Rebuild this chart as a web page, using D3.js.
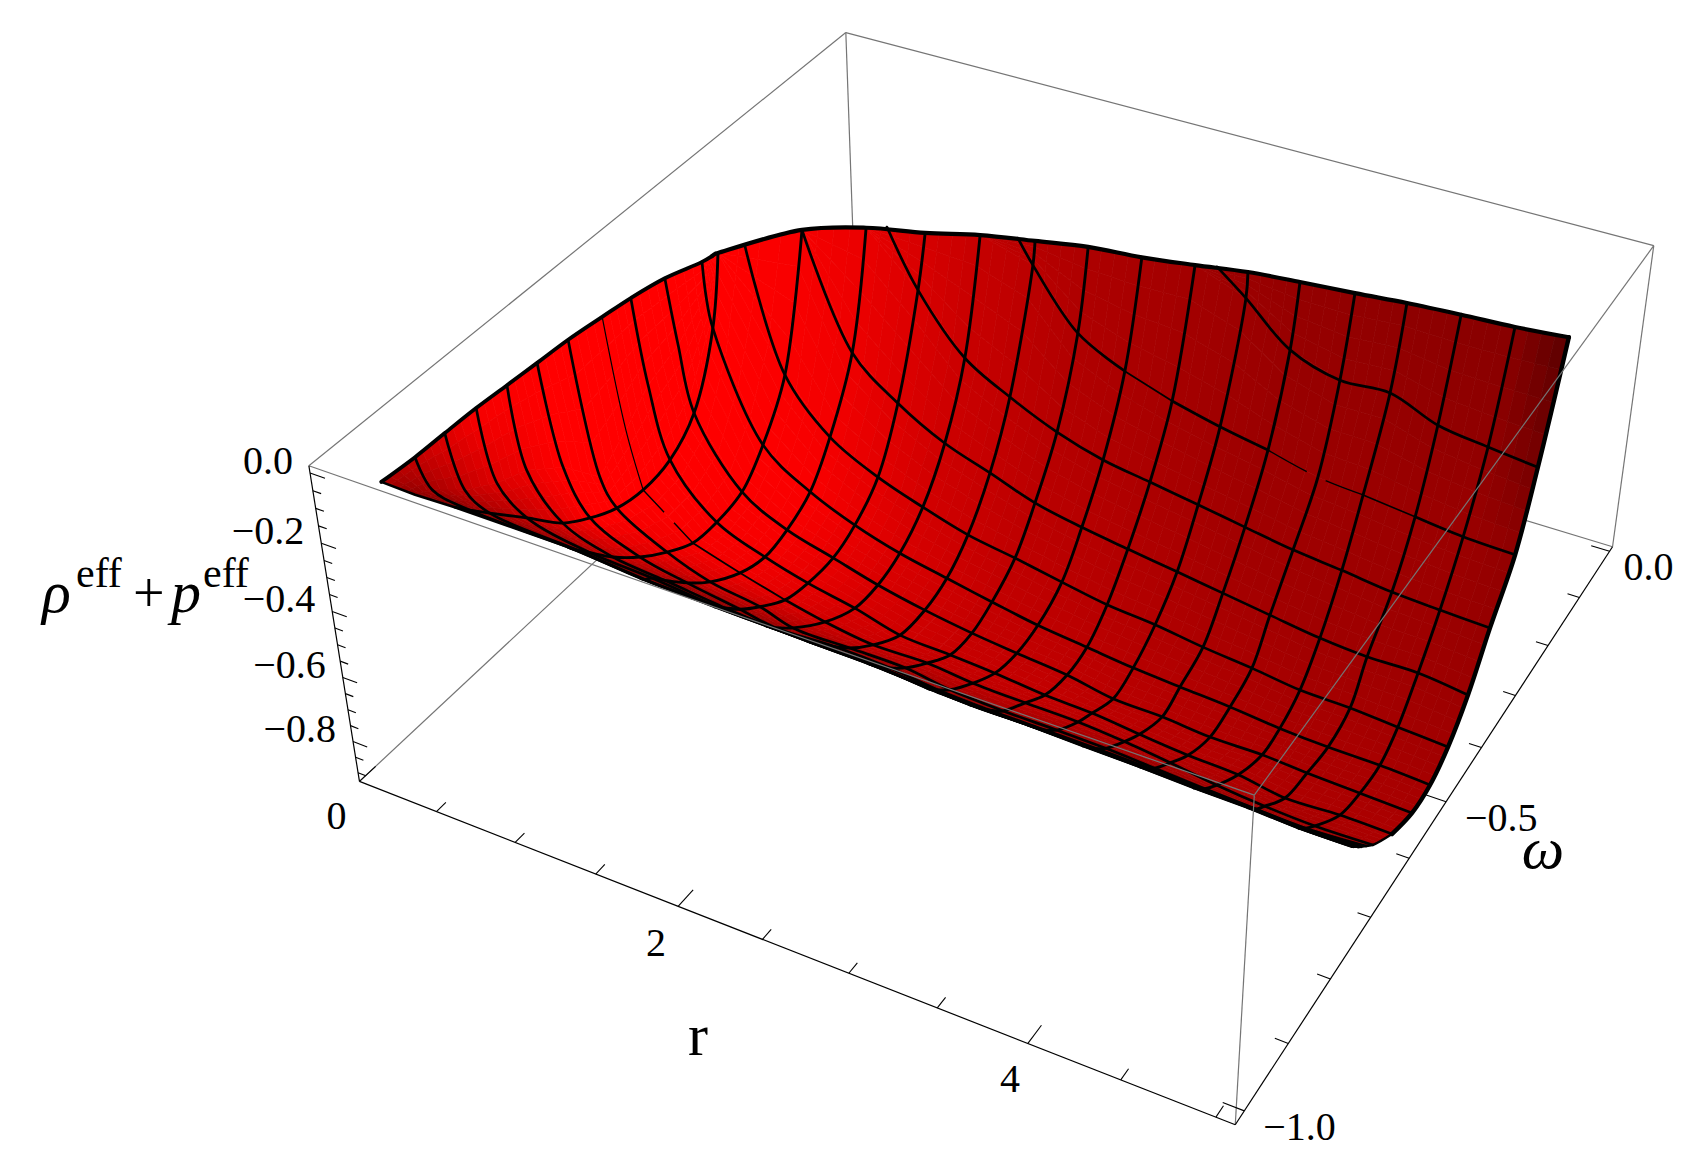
<!DOCTYPE html>
<html><head><meta charset="utf-8"><script src="https://cdn.jsdelivr.net/npm/d3@7"></script>
<style>html,body{margin:0;background:#fff}svg{display:block}text{font-family:"Liberation Serif",serif;fill:#000}</style></head><body>
<svg id="c" width="1706" height="1161"></svg>
<script>
const n=null;
// r value of each grid column
const rColumns=[0,0.15,0.297,0.594,0.891,1.188,1.484,1.781,2.078,2.375,2.672,2.969,3.266,3.563,3.859,4.156,4.453,4.75];
// omega of each grid node (rows run from the front rim to the back edge)
const omegaGrid=[
[-.920,-.906,-.882,-.779,-.737,-.687,-.677,-.694,-.666,-.663,-.660,-.636,-.621,-.603,-.593,-.584,-.585,-.581],
[-.864,-.879,-.859,-.771,-.734,-.685,-.675,-.689,-.662,-.659,-.656,-.634,-.618,-.601,-.590,-.581,-.582,-.578],
[-.813,-.828,-.828,-.763,-.729,-.681,-.673,-.685,-.658,-.654,-.652,-.629,-.616,-.598,-.588,-.579,-.582,-.575],
[-.758,-.775,-.768,-.742,-.716,-.678,-.671,-.675,-.650,-.646,-.643,-.622,-.611,-.596,-.585,-.576,-.579,-.569],
[-.703,-.723,-.708,-.703,-.693,-.668,-.667,-.665,-.640,-.636,-.632,-.613,-.602,-.591,-.583,-.573,-.576,-.563],
[-.648,-.660,-.659,-.654,-.652,-.640,-.661,-.635,-.619,-.618,-.610,-.595,-.587,-.583,-.577,-.570,-.573,-.554],
[-.590,-.596,-.609,-.603,-.608,-.600,-.626,-.605,-.587,-.592,-.580,-.567,-.566,-.566,-.564,-.562,-.565,-.539],
[-.525,-.540,-.557,-.552,-.548,-.549,-.560,-.556,-.539,-.541,-.529,-.516,-.520,-.527,-.533,-.538,-.539,-.518],
[-.469,-.491,-.501,-.502,-.496,-.500,-.496,-.497,-.487,-.490,-.482,-.482,-.482,-.481,-.476,-.482,-.467,-.461],
[-.401,-.427,-.447,-.447,-.447,-.444,-.444,-.440,-.436,-.438,-.428,-.429,-.424,-.423,-.411,-.422,-.410,-.402],
[-.325,-.365,-.398,-.398,-.394,-.394,-.393,-.388,-.388,-.387,-.379,-.379,-.379,-.371,-.364,-.364,-.354,-.350],
[n,n,n,-.344,-.346,-.339,-.338,-.337,-.332,-.328,-.329,-.324,-.320,-.314,-.311,-.304,-.306,-.301],
[n,n,n,n,-.290,-.289,-.284,-.283,-.283,-.279,-.278,-.269,-.271,-.270,-.261,-.263,-.255,-.250],
[n,n,n,n,n,-.237,-.234,-.234,-.229,-.227,-.224,-.218,-.217,-.213,-.208,-.200,-.201,-.197],
[n,n,n,n,n,n,n,-.178,-.179,-.175,-.171,-.166,-.162,-.152,-.159,-.145,-.146,-.135],
[n,n,n,n,n,n,n,n,n,n,n,-.110,-.114,-.105,-.099,-.097,-.091,-.088],
[-.304,-.341,-.378,-.293,-.250,-.218,-.195,-.173,-.156,-.138,-.122,-.108,-.097,-.078,-.069,-.054,-.041,-.030]];
// rho_eff + p_eff of each grid node
const zGrid=[
[-.171,-.205,-.253,-.479,-.589,-.708,-.734,-.697,-.763,-.779,-.793,-.849,-.887,-.930,-.959,-.982,-.988,-.996],
[-.180,-.230,-.296,-.497,-.597,-.711,-.737,-.710,-.773,-.789,-.804,-.853,-.892,-.934,-.964,-.987,-.993,-1.002],
[-.182,-.306,-.351,-.513,-.606,-.717,-.740,-.719,-.782,-.799,-.814,-.864,-.896,-.938,-.968,-.992,-.993,-1.007],
[-.185,-.362,-.455,-.553,-.622,-.726,-.746,-.741,-.799,-.820,-.832,-.879,-.907,-.943,-.973,-.997,-.998,-1.018],
[-.193,-.399,-.561,-.626,-.665,-.741,-.755,-.760,-.819,-.844,-.857,-.898,-.927,-.955,-.977,-1.002,-1.003,-1.030],
[-.201,-.480,-.618,-.701,-.737,-.790,-.764,-.815,-.857,-.876,-.901,-.936,-.955,-.968,-.990,-1.010,-1.009,-1.046],
[-.209,-.604,-.661,-.763,-.802,-.845,-.821,-.868,-.909,-.919,-.954,-.984,-.990,-.999,-1.013,-1.025,-1.024,-1.071],
[-.225,-.535,-.679,-.811,-.866,-.903,-.907,-.937,-.972,-.982,-1.013,-1.044,-1.047,-1.049,-1.056,-1.059,-1.064,-1.106],
[-.240,-.460,-.663,-.818,-.893,-.924,-.963,-1.000,-1.030,-1.033,-1.066,-1.072,-1.088,-1.104,-1.122,-1.132,-1.158,-1.174],
[-.266,-.420,-.588,-.799,-.877,-.926,-.967,-1.007,-1.039,-1.051,-1.088,-1.113,-1.128,-1.143,-1.168,-1.154,-1.186,-1.210],
[-.311,-.344,-.384,-.715,-.829,-.892,-.939,-.981,-1.010,-1.039,-1.074,-1.091,-1.102,-1.129,-1.159,-1.167,-1.190,-1.207],
[n,n,n,-.562,-.717,-.813,-.867,-.913,-.949,-.986,-1.010,-1.034,-1.064,-1.092,-1.118,-1.136,-1.143,-1.163],
[n,n,n,n,-.519,-.640,-.733,-.786,-.838,-.877,-.902,-.942,-.960,-.984,-1.024,-1.031,-1.045,-1.074],
[n,n,n,n,n,-.346,-.524,-.606,-.682,-.730,-.760,-.796,-.823,-.855,-.881,-.915,-.922,-.936],
[n,n,n,n,n,n,n,-.260,-.431,-.514,-.571,-.616,-.651,-.707,-.707,-.751,-.766,-.792],
[n,n,n,n,n,n,n,n,n,n,n,-.283,-.397,-.461,-.465,-.525,-.557,-.579],
[-.319,-.245,-.176,-.170,-.176,-.191,-.186,-.191,-.190,-.204,-.207,-.205,-.208,-.225,-.225,-.238,-.250,-.253]];
// where the upper mesh lines leave the back edge: r, omega, z
const omegaStart={11:[.392,-.351,-.175],12:[.594,-.293,-.170],13:[.997,-.239,-.173],14:[1.689,-.180,-.186],15:[2.795,-.116,-.203]};
// red channel
const shadeCols=[0,2,4,6,8,10,12,14,16,17];
const shadeRows=[0,3,5,6,7,8,10,12,14,16];
const shadeRed=[
[170,110,90,90,85,85,85,85,85,100],
[250,190,125,110,105,105,100,100,100,110],
[255,255,175,140,140,135,130,125,125,130],
[255,255,215,175,170,165,155,150,150,150],
[255,255,240,208,195,190,180,170,168,168],
[255,255,245,215,200,195,185,178,172,172],
[255,255,250,218,195,187,178,170,168,165],
[255,255,238,205,187,177,166,160,158,155],
[255,255,230,197,175,165,155,155,155,145],
[255,245,215,180,170,158,148,142,135,90]];
const zTicks=d3.range(0,19).map(i=>-i*0.05), zLabels=[0,-0.2,-0.4,-0.6,-0.8];
const rTicks=d3.range(0,11).map(i=>i*0.5), rLabels=[0,2,4];
const wTicks=d3.range(0,11).map(i=>-i*0.1), wLabels=[0,-0.5,-1];

const sr=d3.scaleLinear([0,5.1],[0,1]), sw=d3.scaleLinear([-1.02,0.01],[0,1]), sz=d3.scaleLinear([-0.928,0.02],[0,1]);
const corners=[[0,0,1,309,467],[0,1,1,845,33],[1,1,1,1654,245],[1,0,1,1255,794],[0,0,0,359,781],[1,0,0,1235,1125],[1,1,0,1612,548],[0,1,0,857,317]];
function fit(){const A=[],b=[];for(const [u,v,w,x,y] of corners){A.push([u,v,w,1,0,0,0,0,-x*u,-x*v,-x*w]);b.push(x);A.push([0,0,0,0,u,v,w,1,-y*u,-y*v,-y*w]);b.push(y);}
 const m=11,N=d3.range(m).map(i=>d3.range(m+1).map(j=>{let s=0;for(let k=0;k<A.length;k++)s+=A[k][i]*(j<m?A[k][j]:b[k]);return s;}));
 for(let i=0;i<m;i++){let p=i;for(let k=i;k<m;k++)if(Math.abs(N[k][i])>Math.abs(N[p][i]))p=k;[N[i],N[p]]=[N[p],N[i]];for(let k=0;k<m;k++)if(k!==i){const f=N[k][i]/N[i][i];for(let j=i;j<=m;j++)N[k][j]-=f*N[i][j];}}
 return d3.range(m).map(i=>N[i][m]/N[i][i]);}
const P=fit();
const cube=(u,v,w)=>{const d=P[8]*u+P[9]*v+P[10]*w+1;return [(P[0]*u+P[1]*v+P[2]*w+P[3])/d,(P[4]*u+P[5]*v+P[6]*w+P[7])/d];};
const project=(r,o,z)=>cube(sr(r),sw(o),sz(z));

const svg=d3.select('#c');
const gray='#757575';
const seg=(g,a,b,col,wd)=>{const p=cube(...a),q=cube(...b);g.append('line').attr('x1',p[0]).attr('y1',p[1]).attr('x2',q[0]).attr('y2',q[1]).attr('stroke',col).attr('stroke-width',wd);};
const back=svg.append('g');
[[[0,0,1],[0,1,1]],[[0,1,1],[1,1,1]],[[0,1,1],[0,1,0]],[[0,0,0],[0,1,0]],[[0,1,0],[1,1,0]],[[1,1,0],[1,1,1]]].forEach(s=>seg(back,s[0],s[1],gray,1.2));

const R=omegaGrid.length-1,C=rColumns.length-1;
const nodePix=(row,c)=>{const o=omegaGrid[row][c]===null?R:row;return project(rColumns[c],omegaGrid[o][c],zGrid[o][c]);};
const pts=omegaGrid.map((row,i)=>row.map((_,c)=>nodePix(i,c)));
const lerp=(a,b,t)=>a+(b-a)*t;
function shade(row,col){const i=Math.max(0,d3.bisectRight(shadeRows,row)-1),j=Math.max(0,d3.bisectRight(shadeCols,col)-1);
 const i2=Math.min(i+1,shadeRows.length-1),j2=Math.min(j+1,shadeCols.length-1);
 const a=i2>i?(row-shadeRows[i])/(shadeRows[i2]-shadeRows[i]):0,b=j2>j?(col-shadeCols[j])/(shadeCols[j2]-shadeCols[j]):0;
 return lerp(lerp(shadeRed[i][j],shadeRed[i][j2],b),lerp(shadeRed[i2][j],shadeRed[i2][j2],b),a);}
const bil=(i,c,a,b)=>{const p=pts[i][c],q=pts[i][c+1],s=pts[i+1][c],t=pts[i+1][c+1];return [0,1].map(k=>(1-a)*((1-b)*p[k]+b*q[k])+a*((1-b)*s[k]+b*t[k]));};
const surf=svg.append('g');const sub=4;
for(let i=R-1;i>=0;i--)for(let c=0;c<C;c++)for(let a=0;a<sub;a++)for(let b=0;b<sub;b++){
 const poly=[bil(i,c,a/sub,b/sub),bil(i,c,a/sub,(b+1)/sub),bil(i,c,(a+1)/sub,(b+1)/sub),bil(i,c,(a+1)/sub,b/sub)];
 const col=d3.rgb(Math.round(shade(i+(a+.5)/sub,c+(b+.5)/sub)),0,0).formatHex();
 surf.append('polygon').attr('points',poly.map(p=>p.map(v=>v.toFixed(1)).join(',')).join(' ')).attr('fill',col).attr('stroke',col).attr('stroke-width',0.7);}

const curve=d3.line().curve(d3.curveCatmullRom.alpha(0.5));
const mesh=svg.append('g').attr('fill','none').attr('stroke','#000').attr('stroke-linejoin','round').attr('stroke-linecap','round');
for(let c=2;c<C;c++){const p=[];for(let i=R;i>=0;i--)if(omegaGrid[i][c]!==null)p.push(project(rColumns[c],omegaGrid[i][c],zGrid[i][c]));
 mesh.append('path').attr('d',curve(p)).attr('stroke-width',2.9);}
// a few mesh lines thin out or break in the reference: [from column, to column, width, broken]
const thinSpans={7:[[0,2,1.2],[2,3,1.4,true],[3,5,1.8]],14:[[9,10,1.8],[12,14,1.4,true],[14,15,1.6]]};
for(let i=1;i<R;i++){
 const nodes=[];if(omegaStart[i])nodes.push({c:-1,p:project(...omegaStart[i])});
 for(let c=0;c<=C;c++)if(omegaGrid[i][c]!==null)nodes.push({c,p:project(rColumns[c],omegaGrid[i][c],zGrid[i][c])});
 const spans=thinSpans[i]||[];let from=-1;const parts=[];
 spans.forEach(s=>{if(s[0]>from)parts.push([from,s[0],2.7]);parts.push(s);from=s[1];});parts.push([from,C,2.7]);
 parts.forEach(s=>{const sel=nodes.filter(d=>d.c>=s[0]&&d.c<=s[1]).map(d=>d.p);if(sel.length<2)return;
  const path=mesh.append('path').attr('d',curve(sel)).attr('stroke-width',s[2]);
  if(s[3]){const L=path.node().getTotalLength();path.attr('stroke-dasharray',`${L*0.42} ${L*0.2} ${L*0.38}`).attr('stroke-linecap','butt');}});
}
mesh.append('path').attr('d',curve(pts[R])).attr('stroke-width',4.2);
mesh.append('path').attr('d',curve(pts.map(r=>r[0]))).attr('stroke-width',3.8);
mesh.append('path').attr('d',curve(pts.map(r=>r[C]).slice(8))).attr('stroke-width',4.4);
mesh.append('path').attr('d',curve(pts.map(r=>r[C]).slice(0,9))).attr('stroke-width',2.4);
mesh.append('path').attr('d',d3.line()(pts[0])).attr('stroke-width',2.6);

const front=svg.append('g');
[[[0,0,1],[1,0,1]],[[1,0,1],[1,1,1]],[[1,0,1],[1,0,0]]].forEach(s=>seg(front,s[0],s[1],gray,1.2));
const axes=svg.append('g');
[[[0,0,1],[0,0,0]],[[0,0,0],[1,0,0]],[[1,0,0],[1,1,0]]].forEach(s=>seg(axes,s[0],s[1],'#000',1.2));
const tick=(a,b)=>{axes.append('line').attr('x1',a[0]).attr('y1',a[1]).attr('x2',b[0]).attr('y2',b[1]).attr('stroke','#000').attr('stroke-width',1.1);};
zTicks.forEach(z=>{const maj=zLabels.some(l=>Math.abs(l-z)<1e-6);tick(cube(0,0,sz(z)),cube(maj?0.018:0.01,0,sz(z)));});
rTicks.forEach(r=>{const maj=rLabels.includes(r);tick(cube(sr(r),0,0),cube(sr(r),maj?0.027:0.016,0));});
wTicks.forEach(o=>{const maj=wLabels.some(l=>Math.abs(l-o)<1e-6);tick(cube(1,sw(o),0),cube(maj?0.978:0.986,sw(o),0));});
const txt=(s,x,y,size,anchor,style)=>svg.append('text').attr('x',x).attr('y',y).attr('font-size',size).attr('text-anchor',anchor||'start').attr('font-style',style||'normal').text(s);
const fmt=v=>(v<0?'\u2212':'')+Math.abs(v).toFixed(1);
zLabels.forEach(z=>{const p=cube(0,0,sz(z));txt(fmt(z),p[0]-17,p[1]+1,40,'end');});
rLabels.forEach((r,i)=>{const p=cube(sr(r),0,0);txt(String(r),p[0]-[23,22,18][i],p[1]+[48,50,49][i],40,'middle');});
wLabels.forEach(o=>{const p=cube(1,sw(o),0);txt(fmt(o),p[0]+(o===0?14:19),p[1]+29,40);});
txt('r',698,1055,60,'middle');
txt('\u03c9',1543,868,60,'middle','italic');
txt('\u03c1',42,612,60,'start','italic');txt('eff',76,587,42);txt('+',133,612,56);txt('p',171,612,60,'start','italic');txt('eff',203,587,42);
</script></body></html>
